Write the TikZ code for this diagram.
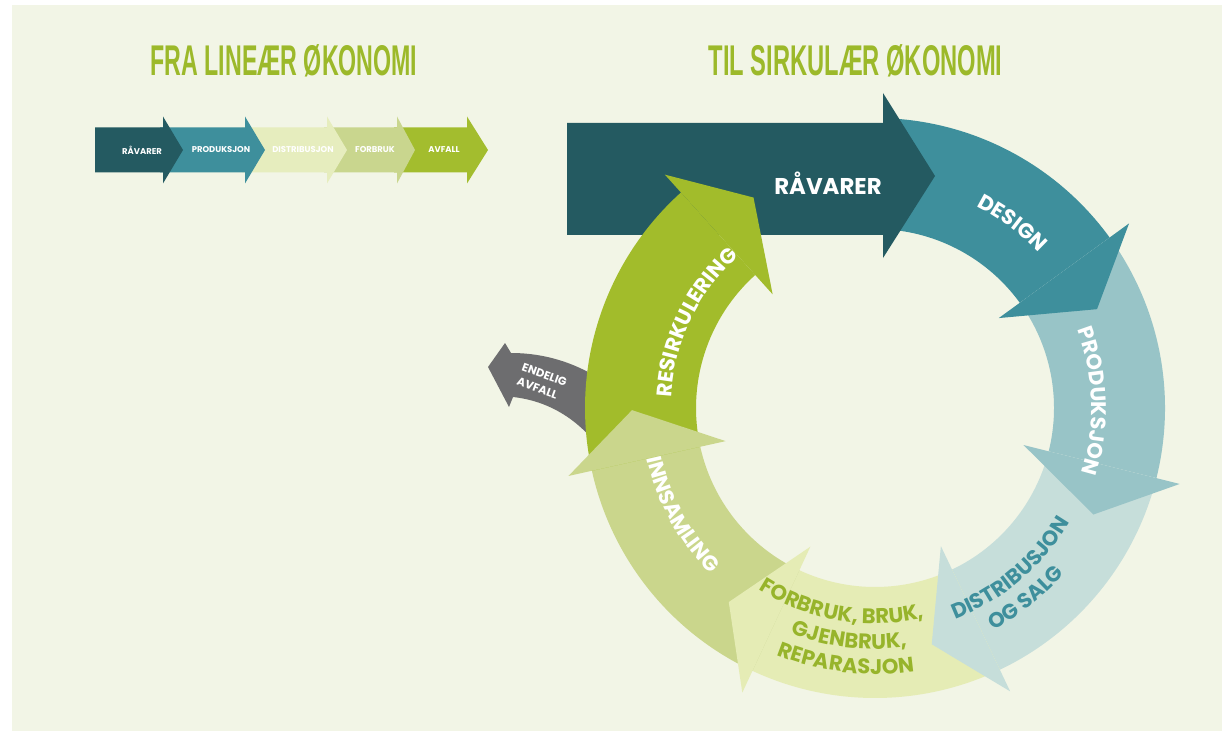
\documentclass[tikz,border=0pt]{standalone}
\usepackage{fontspec}
\setmainfont{Poppins}
\newfontfamily\titlefont{Liberation Sans}
\usepackage{graphicx}
\usepackage{tikz}
\usetikzlibrary{decorations.text}

\definecolor{bgcream}{HTML}{F2F5E6}
\definecolor{ravarer}{HTML}{245A61}
\definecolor{design}{HTML}{3E8F9C}
\definecolor{produksjon}{HTML}{98C4C7}
\definecolor{distribusjon}{HTML}{C6DEDA}
\definecolor{forbruk}{HTML}{E5ECB5}
\definecolor{innsamling}{HTML}{CAD68C}
\definecolor{resirk}{HTML}{A2BC2B}
\definecolor{avfall}{HTML}{6D6D6F}
\definecolor{titlegreen}{HTML}{9CB92A}
\definecolor{forbtext}{HTML}{97B42B}
\definecolor{linavfall}{HTML}{A3BD2E}
\definecolor{linforbruk}{HTML}{C9D68E}
\definecolor{lindistr}{HTML}{E6EDBE}

\newcommand{\ringfont}{\bfseries\fontsize{12}{14}\selectfont}

\begin{document}
\begin{tikzpicture}[x=0.02cm, y=0.02cm, every node/.style={inner sep=0pt},
    heading/.style={text=titlegreen},
    chevlabel/.style={text=white, font=\bfseries\fontsize{4.8}{5}\selectfont},
    ringtext/.style={decorate, decoration={text along path, text align=center, text color=#1}}]

  \fill[white] (0,0) rectangle (1222,731);
  \fill[bgcream] (12,0) rectangle (1222,726);

  % overskrifter
  \node[heading] (fra) at (284,670.5) {\resizebox{151.9pt}{17.6pt}{\titlefont\bfseries FRA LINEÆR ØKONOMI}};
  \node[heading] (til) at (855.5,670.5) {\resizebox{167.2pt}{17.6pt}{\titlefont\bfseries TIL SIRKULÆR ØKONOMI}};

  % lineaer kjede, bakerst forst
  \foreach \xa/\xb/\xt/\c in {394/467/488/linavfall, 324/397/415/linforbruk, 242/327/347/lindistr, 160/245/265/design, 95/163/183/ravarer}
    \fill[\c] (\xa,558.5) -- (\xb,558.5) -- (\xb,547.5) -- (\xt,581) -- (\xb,614.5) -- (\xb,603.5) -- (\xa,603.5) -- cycle;
  \node[chevlabel] (l1) at (142,581) {RÅVARER};
  \node[chevlabel] (l2) at (221,581) {PRODUKSJON};
  \node[chevlabel] (l3) at (303,581) {DISTRIBUSJON};
  \node[chevlabel] (l4) at (375,581) {FORBRUK};
  \node[chevlabel] (l5) at (444,581) {AVFALL};

  % endelig avfall
  \fill[avfall] (488,364) -- (505,388) -- (511,378) .. controls (545,378) and (575,368) .. (600,352)
        -- (600,282) .. controls (580,310) and (550,330) .. (513,334) -- (509,324) -- cycle;
  \node[text=white, font=\bfseries\fontsize{6.5}{8.5}\selectfont, align=left, rotate=-20] (endelig) at (542,349) {ENDELIG\\AVFALL};

  % sirkel
  \begin{scope}[shift={(875,323)}]
    \foreach \s/\e/\c in {87/36/design, 36/-14/produksjon, -14/-64.5/distribusjon, -64.5/-115/forbruk, -115/-167.5/innsamling}
      \fill[\c] (\s:290) arc[start angle=\s, end angle=\e, radius=290] -- (\e:179) arc[start angle=\e, end angle=\s, radius=179] -- cycle;
  \end{scope}

  \fill[ravarer] (567,496) -- (883,496) -- (883,473) -- (935,555) -- (883,638) -- (883,608) -- (567,608) -- cycle;

  \begin{scope}[shift={(875,323)}]
    \fill[resirk] (192.5:290) arc[start angle=192.5, end angle=132, radius=290] -- (132:179) arc[start angle=132, end angle=192.5, radius=179] -- cycle;
    % pilspisser
    \foreach \b/\c in {36/design, -14/produksjon, -64.5/distribusjon, -115/forbruk, -167.5/innsamling, 132/resirk}{
      \pgfmathsetmacro{\t}{\b-12}
      \fill[\c] (\b:153) -- (\t:243) -- (\b:314) -- cycle;
    }
    % tekst langs ringen
    \path[ringtext=white, decoration={text={|\ringfont|DESIGN}}] (88.4:225.5) arc[start angle=88.4, end angle=18.4, radius=225.5];
    \path[ringtext=white, decoration={text={|\ringfont|PRODUKSJON}}] (41.8:216.5) arc[start angle=41.8, end angle=-38.2, radius=216.5];
    \path[ringtext=design, decoration={text={|\ringfont|DISTRIBUSJON}}] (-89.8:226) arc[start angle=-89.8, end angle=-9.8, radius=226];
    \path[ringtext=design, decoration={text={|\ringfont|OG SALG}}] (-91.6:252) arc[start angle=-91.6, end angle=-11.6, radius=252];
    \path[ringtext=forbtext, decoration={text={|\ringfont|FORBRUK, BRUK,}}] (-139.7:215.5) arc[start angle=-139.7, end angle=-59.7, radius=215.5];
    \path[ringtext=forbtext, decoration={text={|\ringfont|GJENBRUK,}}] (-136.5:241) arc[start angle=-136.5, end angle=-56.5, radius=241];
    \path[ringtext=forbtext, decoration={text={|\ringfont|REPARASJON}}] (-136.6:266) arc[start angle=-136.6, end angle=-56.6, radius=266];
    \path[ringtext=white, decoration={text={|\ringfont|INNSAMLING}}] (-191.2:233.5) arc[start angle=-191.2, end angle=-111.2, radius=233.5];
    \path[ringtext=white, decoration={text={|\ringfont|RESIRKULERING}}] (194.5:204) arc[start angle=194.5, end angle=114.5, radius=204];
  \end{scope}

  \node[text=white, font=\bfseries\fontsize{13}{15}\selectfont] (ravarertxt) at (828,548) {RÅVARER};
\end{tikzpicture}
\end{document}
